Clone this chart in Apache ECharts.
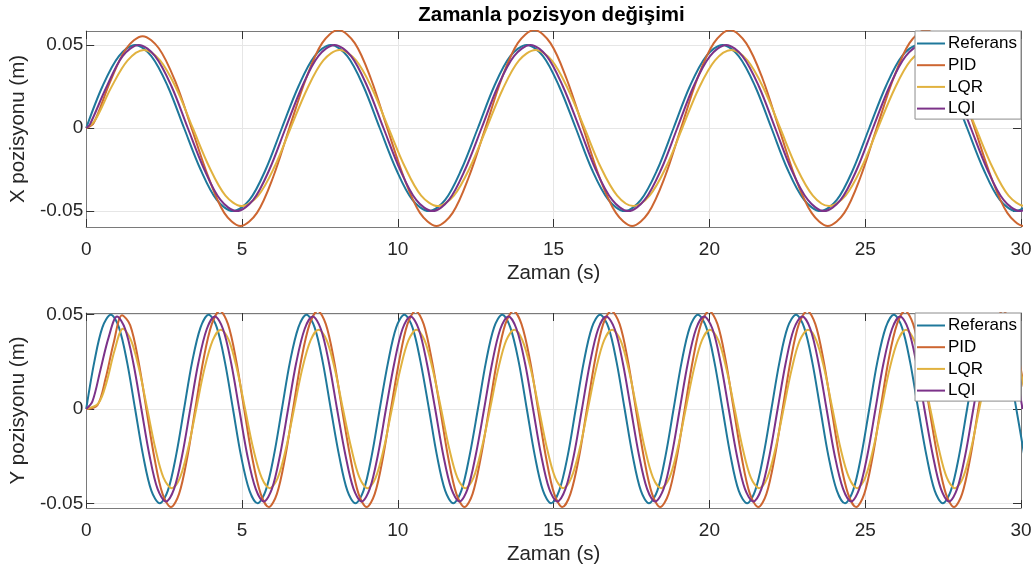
<!DOCTYPE html>
<html>
<head>
<meta charset="utf-8">
<script src="https://cdn.jsdelivr.net/npm/echarts@6/dist/echarts.min.js"></script>
<style>
  html, body { margin: 0; padding: 0; background: #fff; }
  #chart { width: 1035px; height: 569px; }
</style>
</head>
<body>
<div id="chart"></div>
<script>
// Controller names, shared by both panels
const seriesNames = ['Referans', 'PID', 'LQR', 'LQI'];
const titleText = 'Zamanla pozisyon değişimi';
const timeLabel = 'Zaman (s)';
const xPosLabel = 'X pozisyonu (m)';
const yPosLabel = 'Y pozisyonu (m)';
const posTicks = [-0.05, 0, 0.05];

// ---- X position panel (time in s, position in m) ----
const xRefTime = [0, 0.52, 1.05, 1.57, 2.09, 2.62, 3.14, 3.67, 4.19, 4.71, 5.24, 5.76,
  6.28, 6.81, 7.33, 7.85, 8.38, 8.90, 9.42, 9.95, 10.47, 11.00, 11.52, 12.04,
  12.57, 13.09, 13.61, 14.14, 14.66, 15.18, 15.71, 16.23, 16.76, 17.28, 17.80, 18.33,
  18.85, 19.37, 19.90, 20.42, 20.94, 21.47, 21.99, 22.51, 23.04, 23.56, 24.09, 24.61,
  25.13, 25.66, 26.18, 26.70, 27.23, 27.75, 28.27, 28.80, 29.32, 29.85, 30.37];
const xRefPos = [0, 0.025, 0.0433, 0.05, 0.0433, 0.025, 0, -0.025, -0.0433, -0.05, -0.0433, -0.025,
  0, 0.025, 0.0433, 0.05, 0.0433, 0.025, 0, -0.025, -0.0433, -0.05, -0.0433, -0.025,
  0, 0.025, 0.0433, 0.05, 0.0433, 0.025, 0, -0.025, -0.0433, -0.05, -0.0433, -0.025,
  0, 0.025, 0.0433, 0.05, 0.0433, 0.025, 0, -0.025, -0.0433, -0.05, -0.0433, -0.025,
  0, 0.025, 0.0433, 0.05, 0.0433, 0.025, 0, -0.025, -0.0433, -0.05, -0.0433];

const xPidTime = [0, 0.24, 0.76, 1.29, 1.81, 2.33, 2.86, 3.38, 3.91, 4.43, 4.95, 5.48, 6.00,
  6.52, 7.05, 7.57, 8.09, 8.62, 9.14, 9.66, 10.19, 10.71, 11.24, 11.76, 12.28,
  12.81, 13.33, 13.85, 14.38, 14.90, 15.42, 15.95, 16.47, 17.00, 17.52, 18.04, 18.57,
  19.09, 19.61, 20.14, 20.66, 21.18, 21.71, 22.23, 22.75, 23.28, 23.80, 24.33, 24.85,
  25.37, 25.90, 26.42, 26.94, 27.47, 27.99, 28.51, 29.04, 29.56, 30.09, 30.61];
const xPidPos = [0, 0.003, 0.0275, 0.048, 0.0553, 0.048, 0.028, 0, -0.029, -0.0511, -0.059, -0.0511, -0.0295,
  0, 0.0295, 0.0511, 0.059, 0.0511, 0.0295, 0, -0.0295, -0.0511, -0.059, -0.0511, -0.0295,
  0, 0.0295, 0.0511, 0.059, 0.0511, 0.0295, 0, -0.0295, -0.0511, -0.059, -0.0511, -0.0295,
  0, 0.0295, 0.0511, 0.059, 0.0511, 0.0295, 0, -0.0295, -0.0511, -0.059, -0.0511, -0.0295,
  0, 0.0295, 0.0511, 0.059, 0.0511, 0.0295, 0, -0.0295, -0.0511, -0.059, -0.0511];

const xLqrTime = [0, 0.28, 0.80, 1.33, 1.85, 2.37, 2.90, 3.42, 3.95, 4.47, 4.99, 5.52, 6.04,
  6.56, 7.09, 7.61, 8.13, 8.66, 9.18, 9.70, 10.23, 10.75, 11.28, 11.80, 12.32,
  12.85, 13.37, 13.89, 14.42, 14.94, 15.46, 15.99, 16.51, 17.04, 17.56, 18.08, 18.61,
  19.13, 19.65, 20.18, 20.70, 21.22, 21.75, 22.27, 22.79, 23.32, 23.84, 24.37, 24.89,
  25.41, 25.94, 26.46, 26.98, 27.51, 28.03, 28.55, 29.08, 29.60, 30.13, 30.65];
const xLqrPos = [0, 0.0045, 0.0243, 0.0407, 0.047, 0.0407, 0.0235, 0, -0.0235, -0.0407, -0.047, -0.0407, -0.0235,
  0, 0.0235, 0.0407, 0.047, 0.0407, 0.0235, 0, -0.0235, -0.0407, -0.047, -0.0407, -0.0235,
  0, 0.0235, 0.0407, 0.047, 0.0407, 0.0235, 0, -0.0235, -0.0407, -0.047, -0.0407, -0.0235,
  0, 0.0235, 0.0407, 0.047, 0.0407, 0.0235, 0, -0.0235, -0.0407, -0.047, -0.0407, -0.0235,
  0, 0.0235, 0.0407, 0.047, 0.0407, 0.0235, 0, -0.0235, -0.0407, -0.047, -0.0407];

const xLqiTime = [0, 0.12, 0.64, 1.17, 1.69, 2.21, 2.74, 3.26, 3.79, 4.31, 4.83, 5.36, 5.88,
  6.40, 6.93, 7.45, 7.97, 8.50, 9.02, 9.54, 10.07, 10.59, 11.12, 11.64, 12.16,
  12.69, 13.21, 13.73, 14.26, 14.78, 15.30, 15.83, 16.35, 16.88, 17.40, 17.92, 18.45,
  18.97, 19.49, 20.02, 20.54, 21.06, 21.59, 22.11, 22.63, 23.16, 23.68, 24.21, 24.73,
  25.25, 25.78, 26.30, 26.82, 27.35, 27.87, 28.39, 28.92, 29.44, 29.97, 30.49];
const xLqiPos = [0, 0.0022, 0.0242, 0.0433, 0.05, 0.0433, 0.025, 0, -0.025, -0.0433, -0.05, -0.0433, -0.025,
  0, 0.025, 0.0433, 0.05, 0.0433, 0.025, 0, -0.025, -0.0433, -0.05, -0.0433, -0.025,
  0, 0.025, 0.0433, 0.05, 0.0433, 0.025, 0, -0.025, -0.0433, -0.05, -0.0433, -0.025,
  0, 0.025, 0.0433, 0.05, 0.0433, 0.025, 0, -0.025, -0.0433, -0.05, -0.0433, -0.025,
  0, 0.025, 0.0433, 0.05, 0.0433, 0.025, 0, -0.025, -0.0433, -0.05, -0.0433];

// ---- Y position panel ----
const yRefTime = [0, 0.26, 0.52, 0.79, 1.05, 1.31, 1.57, 1.83, 2.09, 2.36, 2.62, 2.88,
  3.14, 3.40, 3.67, 3.93, 4.19, 4.45, 4.71, 4.97, 5.24, 5.50, 5.76, 6.02,
  6.28, 6.54, 6.81, 7.07, 7.33, 7.59, 7.85, 8.12, 8.38, 8.64, 8.90, 9.16,
  9.42, 9.69, 9.95, 10.21, 10.47, 10.73, 11.00, 11.26, 11.52, 11.78, 12.04, 12.30,
  12.57, 12.83, 13.09, 13.35, 13.61, 13.88, 14.14, 14.40, 14.66, 14.92, 15.18, 15.45,
  15.71, 15.97, 16.23, 16.49, 16.76, 17.02, 17.28, 17.54, 17.80, 18.06, 18.33, 18.59,
  18.85, 19.11, 19.37, 19.63, 19.90, 20.16, 20.42, 20.68, 20.94, 21.21, 21.47, 21.73,
  21.99, 22.25, 22.51, 22.78, 23.04, 23.30, 23.56, 23.82, 24.09, 24.35, 24.61, 24.87,
  25.13, 25.39, 25.66, 25.92, 26.18, 26.44, 26.70, 26.97, 27.23, 27.49, 27.75, 28.01,
  28.27, 28.54, 28.80, 29.06, 29.32, 29.58, 29.85, 30.11];
const yRefPos = [0, 0.025, 0.0433, 0.05, 0.0433, 0.025, 0, -0.025, -0.0433, -0.05, -0.0433, -0.025,
  0, 0.025, 0.0433, 0.05, 0.0433, 0.025, 0, -0.025, -0.0433, -0.05, -0.0433, -0.025,
  0, 0.025, 0.0433, 0.05, 0.0433, 0.025, 0, -0.025, -0.0433, -0.05, -0.0433, -0.025,
  0, 0.025, 0.0433, 0.05, 0.0433, 0.025, 0, -0.025, -0.0433, -0.05, -0.0433, -0.025,
  0, 0.025, 0.0433, 0.05, 0.0433, 0.025, 0, -0.025, -0.0433, -0.05, -0.0433, -0.025,
  0, 0.025, 0.0433, 0.05, 0.0433, 0.025, 0, -0.025, -0.0433, -0.05, -0.0433, -0.025,
  0, 0.025, 0.0433, 0.05, 0.0433, 0.025, 0, -0.025, -0.0433, -0.05, -0.0433, -0.025,
  0, 0.025, 0.0433, 0.05, 0.0433, 0.025, 0, -0.025, -0.0433, -0.05, -0.0433, -0.025,
  0, 0.025, 0.0433, 0.05, 0.0433, 0.025, 0, -0.025, -0.0433, -0.05, -0.0433, -0.025,
  0, 0.025, 0.0433, 0.05, 0.0433, 0.025, 0, -0.025];

const yPidTime = [0, 0.36, 0.62, 0.88, 1.15, 1.41, 1.67, 1.93, 2.19, 2.45, 2.72, 2.98, 3.24,
  3.50, 3.76, 4.03, 4.29, 4.55, 4.81, 5.07, 5.33, 5.60, 5.86, 6.12, 6.38,
  6.64, 6.90, 7.17, 7.43, 7.69, 7.95, 8.21, 8.48, 8.74, 9.00, 9.26, 9.52,
  9.78, 10.05, 10.31, 10.57, 10.83, 11.09, 11.36, 11.62, 11.88, 12.14, 12.40, 12.66,
  12.93, 13.19, 13.45, 13.71, 13.97, 14.24, 14.50, 14.76, 15.02, 15.28, 15.54, 15.81,
  16.07, 16.33, 16.59, 16.85, 17.12, 17.38, 17.64, 17.90, 18.16, 18.42, 18.69, 18.95,
  19.21, 19.47, 19.73, 19.99, 20.26, 20.52, 20.78, 21.04, 21.30, 21.57, 21.83, 22.09,
  22.35, 22.61, 22.87, 23.14, 23.40, 23.66, 23.92, 24.18, 24.45, 24.71, 24.97, 25.23,
  25.49, 25.75, 26.02, 26.28, 26.54, 26.80, 27.06, 27.33, 27.59, 27.85, 28.11, 28.37,
  28.63, 28.90, 29.16, 29.42, 29.68, 29.94, 30.21];
const yPidPos = [0, 0.002, 0.016, 0.035, 0.0497, 0.0445, 0.026, 0, -0.026, -0.045, -0.052, -0.045, -0.026,
  0, 0.026, 0.045, 0.052, 0.045, 0.026, 0, -0.026, -0.045, -0.052, -0.045, -0.026,
  0, 0.026, 0.045, 0.052, 0.045, 0.026, 0, -0.026, -0.045, -0.052, -0.045, -0.026,
  0, 0.026, 0.045, 0.052, 0.045, 0.026, 0, -0.026, -0.045, -0.052, -0.045, -0.026,
  0, 0.026, 0.045, 0.052, 0.045, 0.026, 0, -0.026, -0.045, -0.052, -0.045, -0.026,
  0, 0.026, 0.045, 0.052, 0.045, 0.026, 0, -0.026, -0.045, -0.052, -0.045, -0.026,
  0, 0.026, 0.045, 0.052, 0.045, 0.026, 0, -0.026, -0.045, -0.052, -0.045, -0.026,
  0, 0.026, 0.045, 0.052, 0.045, 0.026, 0, -0.026, -0.045, -0.052, -0.045, -0.026,
  0, 0.026, 0.045, 0.052, 0.045, 0.026, 0, -0.026, -0.045, -0.052, -0.045, -0.026,
  0, 0.026, 0.045, 0.052, 0.045, 0.026, 0];

const yLqrTime = [0, 0.39, 0.65, 0.91, 1.18, 1.44, 1.70, 1.96, 2.22, 2.48, 2.75, 3.01, 3.27,
  3.53, 3.79, 4.06, 4.32, 4.58, 4.84, 5.10, 5.36, 5.63, 5.89, 6.15, 6.41,
  6.67, 6.93, 7.20, 7.46, 7.72, 7.98, 8.24, 8.51, 8.77, 9.03, 9.29, 9.55,
  9.81, 10.08, 10.34, 10.60, 10.86, 11.12, 11.39, 11.65, 11.91, 12.17, 12.43, 12.69,
  12.96, 13.22, 13.48, 13.74, 14.00, 14.27, 14.53, 14.79, 15.05, 15.31, 15.57, 15.84,
  16.10, 16.36, 16.62, 16.88, 17.15, 17.41, 17.67, 17.93, 18.19, 18.45, 18.72, 18.98,
  19.24, 19.50, 19.76, 20.02, 20.29, 20.55, 20.81, 21.07, 21.33, 21.60, 21.86, 22.12,
  22.38, 22.64, 22.90, 23.17, 23.43, 23.69, 23.95, 24.21, 24.48, 24.74, 25.00, 25.26,
  25.52, 25.78, 26.05, 26.31, 26.57, 26.83, 27.09, 27.36, 27.62, 27.88, 28.14, 28.40,
  28.66, 28.93, 29.19, 29.45, 29.71, 29.97, 30.24];
const yLqrPos = [0, 0.003, 0.014, 0.031, 0.0425, 0.0364, 0.021, 0, -0.021, -0.0364, -0.042, -0.0364, -0.021,
  0, 0.021, 0.0364, 0.042, 0.0364, 0.021, 0, -0.021, -0.0364, -0.042, -0.0364, -0.021,
  0, 0.021, 0.0364, 0.042, 0.0364, 0.021, 0, -0.021, -0.0364, -0.042, -0.0364, -0.021,
  0, 0.021, 0.0364, 0.042, 0.0364, 0.021, 0, -0.021, -0.0364, -0.042, -0.0364, -0.021,
  0, 0.021, 0.0364, 0.042, 0.0364, 0.021, 0, -0.021, -0.0364, -0.042, -0.0364, -0.021,
  0, 0.021, 0.0364, 0.042, 0.0364, 0.021, 0, -0.021, -0.0364, -0.042, -0.0364, -0.021,
  0, 0.021, 0.0364, 0.042, 0.0364, 0.021, 0, -0.021, -0.0364, -0.042, -0.0364, -0.021,
  0, 0.021, 0.0364, 0.042, 0.0364, 0.021, 0, -0.021, -0.0364, -0.042, -0.0364, -0.021,
  0, 0.021, 0.0364, 0.042, 0.0364, 0.021, 0, -0.021, -0.0364, -0.042, -0.0364, -0.021,
  0, 0.021, 0.0364, 0.042, 0.0364, 0.021, 0];

const yLqiTime = [0, 0.20, 0.46, 0.72, 0.99, 1.25, 1.51, 1.77, 2.03, 2.29, 2.56, 2.82, 3.08,
  3.34, 3.60, 3.87, 4.13, 4.39, 4.65, 4.91, 5.17, 5.44, 5.70, 5.96, 6.22,
  6.48, 6.74, 7.01, 7.27, 7.53, 7.79, 8.05, 8.32, 8.58, 8.84, 9.10, 9.36,
  9.62, 9.89, 10.15, 10.41, 10.67, 10.93, 11.20, 11.46, 11.72, 11.98, 12.24, 12.50,
  12.77, 13.03, 13.29, 13.55, 13.81, 14.08, 14.34, 14.60, 14.86, 15.12, 15.38, 15.65,
  15.91, 16.17, 16.43, 16.69, 16.96, 17.22, 17.48, 17.74, 18.00, 18.26, 18.53, 18.79,
  19.05, 19.31, 19.57, 19.83, 20.10, 20.36, 20.62, 20.88, 21.14, 21.41, 21.67, 21.93,
  22.19, 22.45, 22.71, 22.98, 23.24, 23.50, 23.76, 24.02, 24.29, 24.55, 24.81, 25.07,
  25.33, 25.59, 25.86, 26.12, 26.38, 26.64, 26.90, 27.17, 27.43, 27.69, 27.95, 28.21,
  28.47, 28.74, 29.00, 29.26, 29.52, 29.78, 30.05];
const yLqiPos = [0, 0.004, 0.021, 0.038, 0.049, 0.0424, 0.0245, 0, -0.0245, -0.0424, -0.049, -0.0424, -0.0245,
  0, 0.0245, 0.0424, 0.049, 0.0424, 0.0245, 0, -0.0245, -0.0424, -0.049, -0.0424, -0.0245,
  0, 0.0245, 0.0424, 0.049, 0.0424, 0.0245, 0, -0.0245, -0.0424, -0.049, -0.0424, -0.0245,
  0, 0.0245, 0.0424, 0.049, 0.0424, 0.0245, 0, -0.0245, -0.0424, -0.049, -0.0424, -0.0245,
  0, 0.0245, 0.0424, 0.049, 0.0424, 0.0245, 0, -0.0245, -0.0424, -0.049, -0.0424, -0.0245,
  0, 0.0245, 0.0424, 0.049, 0.0424, 0.0245, 0, -0.0245, -0.0424, -0.049, -0.0424, -0.0245,
  0, 0.0245, 0.0424, 0.049, 0.0424, 0.0245, 0, -0.0245, -0.0424, -0.049, -0.0424, -0.0245,
  0, 0.0245, 0.0424, 0.049, 0.0424, 0.0245, 0, -0.0245, -0.0424, -0.049, -0.0424, -0.0245,
  0, 0.0245, 0.0424, 0.049, 0.0424, 0.0245, 0, -0.0245, -0.0424, -0.049, -0.0424, -0.0245,
  0, 0.0245, 0.0424, 0.049, 0.0424, 0.0245, 0];

// ---- styling ----
const FONT = "'Liberation Sans', Arial, Helvetica, sans-serif";
const colors = { Referans: '#1f789b', PID: '#cd6631', LQR: '#e1b23f', LQI: '#7c3289' };
const TEXT = '#262626';
const BOX = '#7a7a7a';
const GRIDLINE = '#e6e6e6';

function pairs(t, v) { return t.map((x, i) => [x, v[i]]); }

function lineSeries(name, t, v, axisIdx) {
  return {
    name, type: 'line', xAxisIndex: axisIdx, yAxisIndex: axisIdx,
    data: pairs(t, v), smooth: 0.33, symbol: 'none', showSymbol: false,
    clip: true, animation: false,
    lineStyle: { width: 2, color: colors[name] },
    itemStyle: { color: colors[name] }
  };
}

function timeAxis(gridIndex, main) {
  return {
    type: 'value', gridIndex, position: main ? 'bottom' : 'top',
    min: 0, max: 30, interval: 5,
    axisLine: { show: true, onZero: false, lineStyle: { color: BOX, width: 1 } },
    axisTick: { show: true, inside: true, length: 8, lineStyle: { color: '#333', width: 1 } },
    axisLabel: { show: main, fontSize: 19, color: TEXT, fontFamily: FONT, margin: 13 },
    splitLine: { show: main, lineStyle: { color: GRIDLINE, width: 1 } },
    name: main ? timeLabel : '', nameLocation: 'middle', nameGap: 36,
    nameTextStyle: { fontSize: 20.5, color: TEXT, fontFamily: FONT }
  };
}

function posAxis(gridIndex, main, lo, hi, label) {
  return {
    type: 'value', gridIndex, position: main ? 'left' : 'right',
    min: lo, max: hi,
    axisLine: { show: true, onZero: false, lineStyle: { color: BOX, width: 1 } },
    axisTick: { show: true, inside: true, length: 8, customValues: posTicks,
                lineStyle: { color: '#333', width: 1 } },
    axisLabel: { show: main, customValues: posTicks, fontSize: 19, color: TEXT,
                 fontFamily: FONT, margin: 3,
                 formatter: v => (v === 0 ? '0' : v.toFixed(2)) },
    splitLine: { show: main, lineStyle: { color: GRIDLINE, width: 1 } },
    name: main ? label : '', nameLocation: 'middle', nameGap: 50, nameRotate: 90,
    nameTextStyle: { fontSize: 20.5, color: TEXT, fontFamily: FONT }
  };
}

function legendBox(top) {
  return {
    data: seriesNames, orient: 'vertical', right: 14, top,
    icon: 'rect', itemWidth: 28, itemHeight: 2, itemGap: 4.7,
    padding: [4, 4, 2, 2],
    backgroundColor: '#ffffff', borderColor: '#8c8c8c', borderWidth: 1, borderRadius: 0,
    textStyle: { fontSize: 17, color: '#000', fontFamily: FONT, padding: [0, 0, 0, -2] },
    selectedMode: false
  };
}

const chart = echarts.init(document.getElementById('chart'), null, { renderer: 'canvas' });
chart.setOption({
  backgroundColor: '#ffffff',
  animation: false,
  textStyle: { fontFamily: FONT },
  graphic: [{
    type: 'text', x: 551.5, y: 15, z: 10,
    style: { text: titleText, fontSize: 20.5, fontWeight: 'bold', fontFamily: FONT,
             fill: '#000', align: 'center', verticalAlign: 'middle' }
  }],
  grid: [
    { left: 82, right: 14, top: 31, height: 196 },
    { left: 82, right: 14, top: 313, height: 195 }
  ],
  xAxis: [timeAxis(0, true), timeAxis(0, false), timeAxis(1, true), timeAxis(1, false)],
  yAxis: [
    posAxis(0, true, -0.0596, 0.0584, xPosLabel),
    posAxis(0, false, -0.0596, 0.0584, ''),
    posAxis(1, true, -0.0525, 0.0509, yPosLabel),
    posAxis(1, false, -0.0525, 0.0509, '')
  ],
  legend: [legendBox(31), legendBox(313)],
  series: [
    lineSeries('Referans', xRefTime, xRefPos, 0),
    lineSeries('PID', xPidTime, xPidPos, 0),
    lineSeries('LQR', xLqrTime, xLqrPos, 0),
    lineSeries('LQI', xLqiTime, xLqiPos, 0),
    lineSeries('Referans', yRefTime, yRefPos, 2),
    lineSeries('PID', yPidTime, yPidPos, 2),
    lineSeries('LQR', yLqrTime, yLqrPos, 2),
    lineSeries('LQI', yLqiTime, yLqiPos, 2)
  ]
});
</script>
</body>
</html>
